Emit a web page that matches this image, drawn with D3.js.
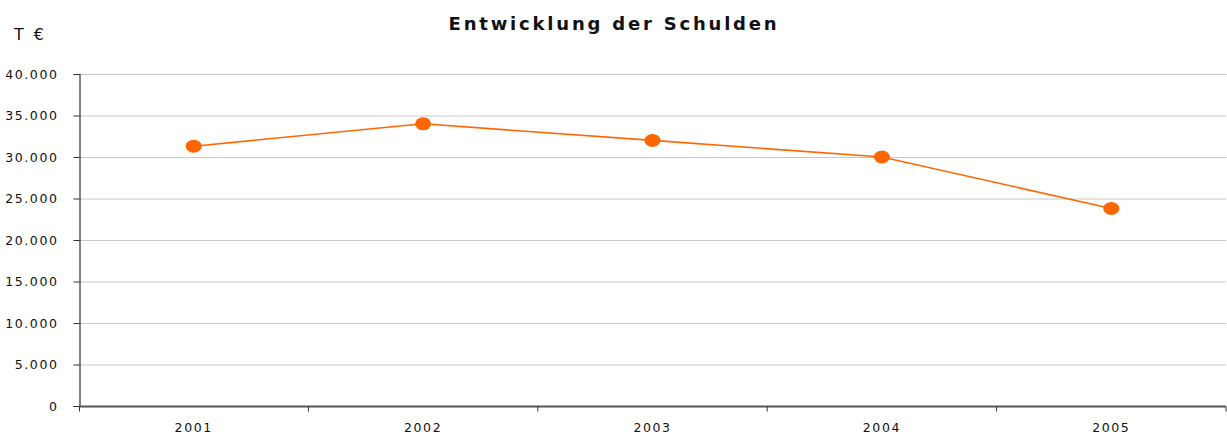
<!DOCTYPE html>
<html>
<head>
<meta charset="utf-8">
<script src="https://cdn.jsdelivr.net/npm/d3@7"></script>
<style>
  body { margin: 0; background: #fff; }
  text { font-family: "DejaVu Sans", Verdana, sans-serif; fill: #111; }
</style>
</head>
<body>
<svg id="chart"></svg>
<script>
let years = ["2001", "2002", "2003", "2004", "2005"];
let schulden = [31300, 34000, 32000, 30000, 23800];
let yTicks = [0, 5000, 10000, 15000, 20000, 25000, 30000, 35000, 40000];

let width = 1227;
let height = 437;
let margin = { top: 74, right: 1, bottom: 31, left: 79 };

let chart = d3.select("#chart").attr("width", width).attr("height", height);

let x = d3
  .scaleBand()
  .domain(years)
  .range([margin.left, width - margin.right]);

let y = d3
  .scaleLinear()
  .domain([0, 40000])
  .range([height - margin.bottom, margin.top]);

let fmt = (v) => d3.format(",")(v).replace(/,/g, ".");

// grid lines
chart
  .append("g")
  .selectAll("line")
  .data(yTicks.slice(1))
  .enter()
  .append("line")
  .attr("x1", margin.left)
  .attr("x2", width - margin.right)
  .attr("y1", (d) => y(d) + 0.5)
  .attr("y2", (d) => y(d) + 0.5)
  .attr("stroke", "#c8c8c8")
  .attr("stroke-width", 1);

// y axis
let yAxis = chart
  .append("g")
  .attr("transform", `translate(${margin.left + 0.5},0)`)
  .call(d3.axisLeft(y).tickValues(yTicks).tickFormat(fmt).tickSize(6).tickPadding(15));
yAxis.select(".domain").attr("stroke", "#333").attr("stroke-width", 1.2);
yAxis.selectAll(".tick line").attr("stroke", "#333");
yAxis
  .selectAll("text")
  .style("font-size", "12.5px")
  .style("letter-spacing", "1.6px")
  .attr("fill", "#111")
  .attr("dy", "0.35em");

// x axis with ticks at band borders
let xAxis = chart.append("g").attr("transform", `translate(0,${y(0) + 0.5})`);
xAxis
  .append("line")
  .attr("x1", margin.left)
  .attr("x2", width - margin.right)
  .attr("stroke", "#555")
  .attr("stroke-width", 2);
xAxis
  .selectAll(".bt")
  .data(years)
  .enter()
  .append("line")
  .attr("x1", (d) => x(d) + x.bandwidth())
  .attr("x2", (d) => x(d) + x.bandwidth())
  .attr("y1", 0)
  .attr("y2", 5)
  .attr("stroke", "#333");
xAxis
  .append("line")
  .attr("x1", margin.left + 0.5)
  .attr("x2", margin.left + 0.5)
  .attr("y1", 0)
  .attr("y2", 5)
  .attr("stroke", "#333");
xAxis
  .selectAll("text")
  .data(years)
  .enter()
  .append("text")
  .attr("x", (d) => x(d) + x.bandwidth() / 2)
  .attr("y", 25)
  .attr("text-anchor", "middle")
  .style("font-size", "12.5px")
  .style("letter-spacing", "1.6px")
  .text((d) => d);

// line
let line = d3
  .line()
  .x((d, i) => x(years[i]) + x.bandwidth() / 2)
  .y((d) => y(d));

chart
  .append("path")
  .datum(schulden)
  .attr("d", line)
  .attr("fill", "none")
  .attr("stroke", "#ff6600")
  .attr("stroke-width", 1.6);

chart
  .selectAll(".pt")
  .data(schulden)
  .enter()
  .append("ellipse")
  .attr("cx", (d, i) => x(years[i]) + x.bandwidth() / 2)
  .attr("cy", (d) => y(d))
  .attr("rx", 8)
  .attr("ry", 6.5)
  .attr("fill", "#ff6600");

// title and unit
chart
  .append("text")
  .attr("x", 614)
  .attr("y", 30)
  .attr("text-anchor", "middle")
  .style("font-size", "18px")
  .style("font-weight", "bold")
  .style("letter-spacing", "2.8px")
  .text("Entwicklung der Schulden");

chart
  .append("text")
  .attr("x", 14)
  .attr("y", 40)
  .style("font-size", "16px")
  .style("letter-spacing", "2.5px")
  .text("T €");
</script>
</body>
</html>
